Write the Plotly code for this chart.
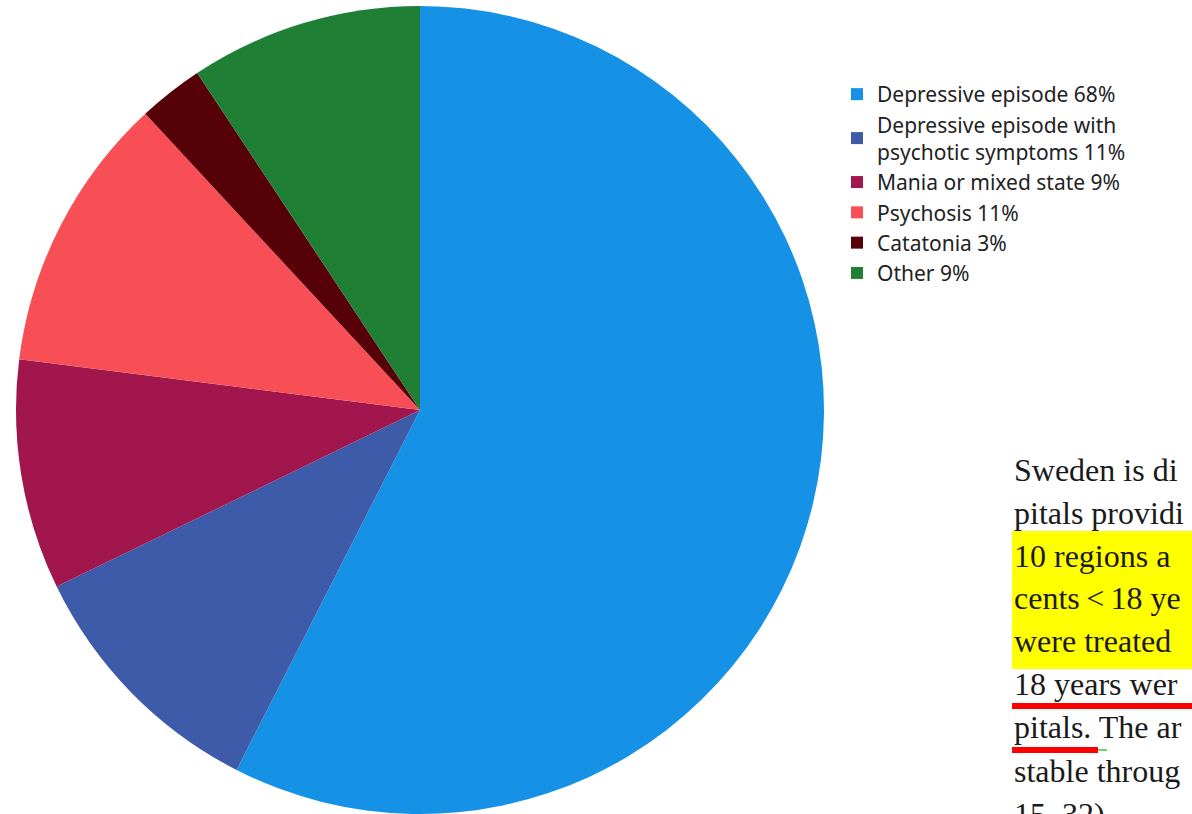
import plotly.graph_objects as go

W, H = 1192, 814

# ---- data (slice sizes; legend text as printed) ----
categories = [
    "Depressive episode 68%",
    "Depressive episode with<br>psychotic symptoms 11%",
    "Mania or mixed state 9%",
    "Psychosis 11%",
    "Catatonia 3%",
    "Other 9%",
]
slice_values = [57.5, 10.3, 9.2, 11.1, 2.6, 9.3]
slice_colors = ["#1591E6", "#3E5BA9", "#A0164D", "#F84F57", "#560007", "#1F7F35"]

# page text fragments to the right of the chart
text_lines = [
    "Sweden is di",
    "pitals providi",
    "10 regions a",
    "cents\u2009<\u200918 ye",
    "were treated",
    "18 years wer",
    "pitals. The ar",
    "stable throug",
    "15, 32).",
]
text_baselines = [481, 524, 567, 609, 652, 695, 738, 782, 825]


def px(x):
    return x / W


def py(y):
    return 1 - y / H


cx, cy, r = 420, 410, 404

fig = go.Figure(
    go.Pie(
        labels=categories,
        values=slice_values,
        marker=dict(colors=slice_colors, line=dict(width=0)),
        sort=False,
        direction="clockwise",
        rotation=0,
        textinfo="none",
        hoverinfo="label",
        domain=dict(x=[px(cx - r), px(cx + r)], y=[py(cy + r), py(cy - r)]),
    )
)

fs = 32
annotations = []
for t, b in zip(text_lines, text_baselines):
    annotations.append(
        dict(
            text=t,
            x=px(1012),
            y=py(b - 0.34 * fs),
            xref="paper",
            yref="paper",
            xanchor="left",
            yanchor="middle",
            showarrow=False,
            font=dict(family="Liberation Serif", size=fs, color="#1a1a1a"),
        )
    )

shapes = [
    dict(type="rect", xref="paper", yref="paper", x0=px(1012), x1=px(1200),
         y0=py(669), y1=py(531), fillcolor="#FFFF00", line=dict(width=0), layer="below"),
    dict(type="rect", xref="paper", yref="paper", x0=px(1012), x1=px(1200),
         y0=py(709), y1=py(703), fillcolor="#FF0000", line=dict(width=0)),
    dict(type="rect", xref="paper", yref="paper", x0=px(1012), x1=px(1098),
         y0=py(753), y1=py(747), fillcolor="#FF0000", line=dict(width=0)),
    dict(type="line", xref="paper", yref="paper", x0=px(1098), x1=px(1107),
         y0=py(750), y1=py(750), line=dict(color="#33CC33", width=1.5)),
]

fig.update_layout(
    width=W,
    height=H,
    margin=dict(l=0, r=0, t=0, b=0),
    paper_bgcolor="white",
    plot_bgcolor="white",
    showlegend=True,
    legend=dict(
        x=px(837),
        y=py(74),
        xanchor="left",
        yanchor="top",
        font=dict(family="Noto Sans", size=21, color="#222222"),
        bgcolor="rgba(0,0,0,0)",
        traceorder="normal",
    ),
    annotations=annotations,
    shapes=shapes,
)

fig.write_html("out.html")
